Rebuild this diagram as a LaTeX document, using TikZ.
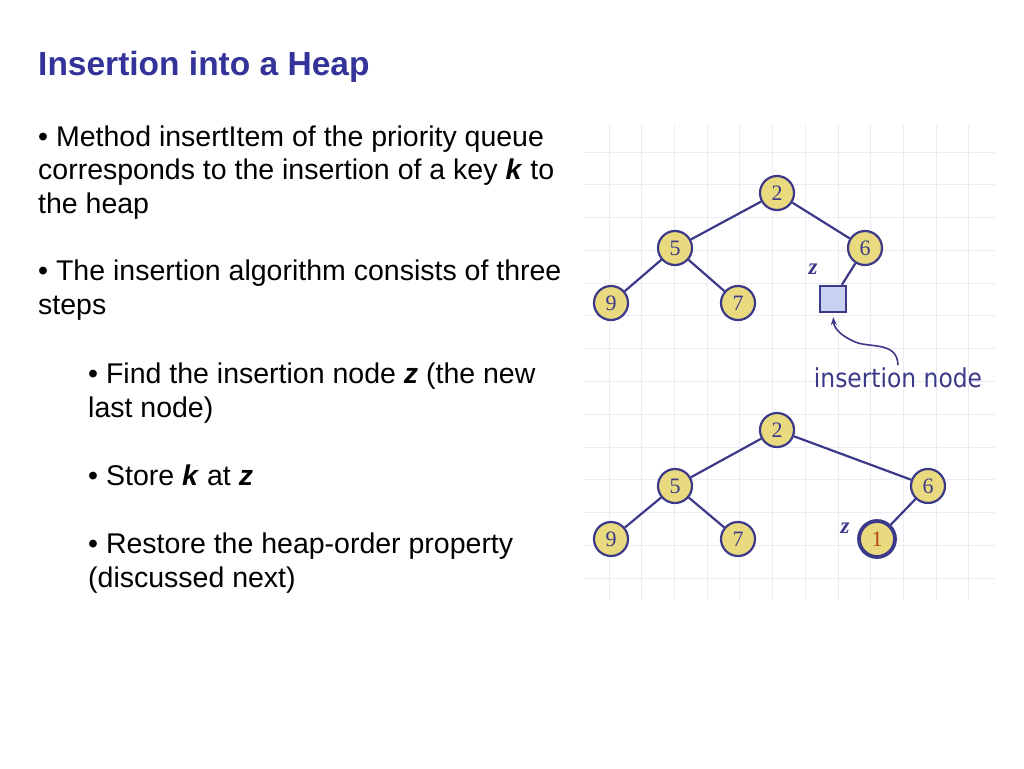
\documentclass[tikz,border=0pt]{standalone}
\usepackage{fontspec}
\setmainfont{Liberation Sans}
\newfontfamily\heapfont{Liberation Serif}
\newfontfamily\labelfont{DejaVu Sans}[FakeStretch=0.9]
\usetikzlibrary{arrows.meta}
\definecolor{titleblue}{HTML}{333399}
\definecolor{heapline}{HTML}{3C3A88}
\definecolor{heapfill}{HTML}{E9DA80}
\definecolor{boxfill}{HTML}{C9D1F2}
\definecolor{gridline}{HTML}{EBEBF6}
\definecolor{keyred}{HTML}{B8421A}

\begin{document}
\begin{tikzpicture}[x=1pt, y=-1pt,
  bodytext/.style={anchor=base west, align=left, inner sep=0pt, font=\fontsize{28.5}{33.7}\selectfont},
  heapnode/.style={circle, draw=heapline, line width=2.2pt, fill=heapfill, minimum size=34pt, inner sep=0pt, text=heapline, font=\heapfont\fontsize{22}{22}\selectfont},
  newkey/.style={heapnode, line width=3.8pt, minimum size=36pt, text=keyred},
  holder/.style={rectangle, draw=heapline, line width=2.2pt, fill=boxfill, minimum size=26pt, inner sep=0pt},
  zlabel/.style={text=heapline, inner sep=0pt, font=\heapfont\bfseries\itshape\fontsize{23}{23}\selectfont},
  heapedge/.style={draw=heapline, line width=2.2pt}]
\useasboundingbox[fill=white] (0,0) rectangle (1024,768);

% grid behind the trees
\foreach \i in {0,...,11}
  \draw[gridline, line width=0.8pt] (609+32.7*\i,125) -- (609+32.7*\i,600);
\foreach \j in {0,...,13}
  \draw[gridline, line width=0.8pt] (584,152+32.77*\j) -- (995,152+32.77*\j);

% text (base anchor sits on the last line)
\node[bodytext, text=titleblue, font=\bfseries\fontsize{33.5}{40}\selectfont] (title) at (38,75) {Insertion into a Heap};
\node[bodytext] (first) at (38,213.4) {• Method insertItem of the priority queue\\corresponds to the insertion of a key \textbf{\textit{k}} to\\the heap};
\node[bodytext] (second) at (38,314) {• The insertion algorithm consists of three\\steps};
\node[bodytext] (stepa) at (88,417) {• Find the insertion node \textbf{\textit{z}} (the new\\last node)};
\node[bodytext] (stepb) at (88,485) {• Store \textbf{\textit{k}} at \textbf{\textit{z}}};
\node[bodytext] (stepc) at (88,587) {• Restore the heap-order property\\(discussed next)};

% heap before
\node[heapnode] (atwo) at (777,193) {2};
\node[heapnode] (afive) at (675,248) {5};
\node[heapnode] (asix) at (865,248) {6};
\node[heapnode] (anine) at (611,303) {9};
\node[heapnode] (aseven) at (738,303) {7};
\node[holder] (slot) at (833,299) {};
\node[zlabel] (zfirst) at (813,269) {z};
\node[text=heapline, inner sep=2pt, anchor=base, font=\labelfont\fontsize{26}{26}\selectfont] (lbl) at (898,387) {insertion node};
\draw[heapedge] (atwo) -- (afive);
\draw[heapedge] (atwo) -- (asix);
\draw[heapedge] (afive) -- (anine);
\draw[heapedge] (afive) -- (aseven);
\draw[heapedge] (asix) -- (slot);
\draw[heapedge, line width=1.6pt, -{Stealth[length=8pt,width=6pt]}, shorten >=4pt] (lbl.north) .. controls (897,340) and (868,349) .. (853,341) .. controls (840,335) and (834,328) .. (slot.south);

% heap after
\node[heapnode] (btwo) at (777,430) {2};
\node[heapnode] (bfive) at (675,486) {5};
\node[heapnode] (bsix) at (928,486) {6};
\node[heapnode] (bnine) at (611,539) {9};
\node[heapnode] (bseven) at (738,539) {7};
\node[newkey] (bone) at (877,539) {1};
\node[zlabel] (zsecond) at (845,528) {z};
\draw[heapedge] (btwo) -- (bfive);
\draw[heapedge] (btwo) -- (bsix);
\draw[heapedge] (bfive) -- (bnine);
\draw[heapedge] (bfive) -- (bseven);
\draw[heapedge] (bsix) -- (bone);
\end{tikzpicture}
\end{document}
